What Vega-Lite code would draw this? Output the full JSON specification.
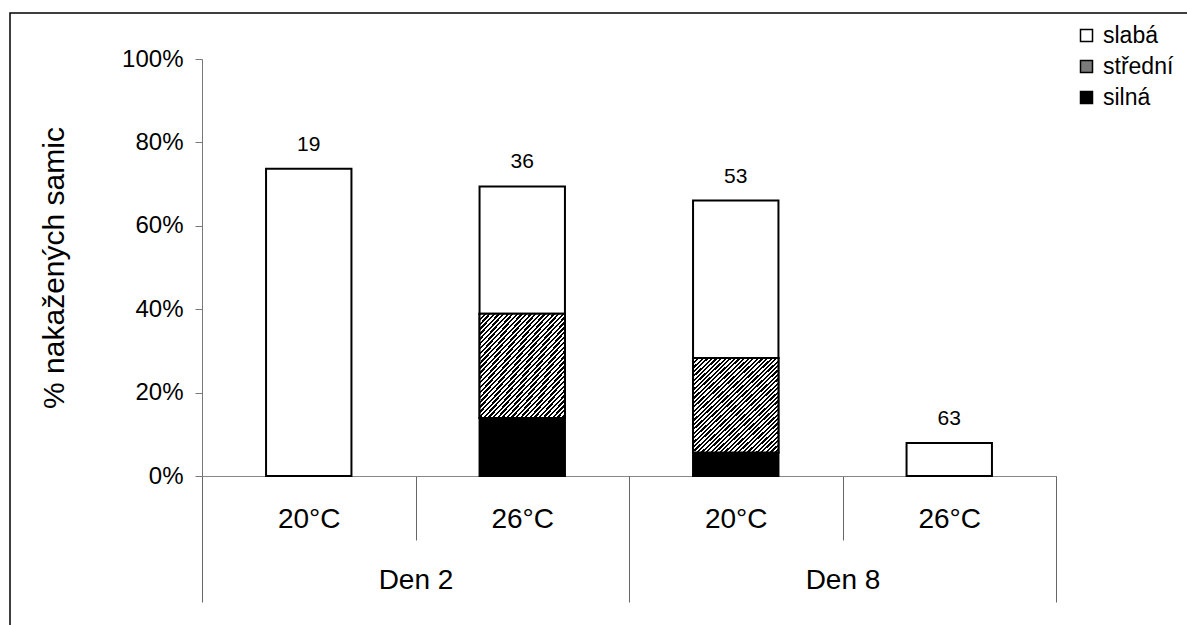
{
  "$schema": "https://vega.github.io/schema/vega-lite/v6.json",
  "autosize": {"type": "none"},
  "padding": {"left": 10, "top": 13, "right": -10, "bottom": -10},
  "width": 1187,
  "height": 622,
  "background": "white",
  "config": {
    "font": "Liberation Sans",
    "view": {"stroke": "black", "strokeWidth": 1.5},
    "axis": {"labelColor": "black", "titleColor": "black", "grid": false}
  },
  "data": {
    "values": [
      {"den": "Den 2", "temp": "20°C", "cond": "Den 2|20°C", "sev": "slabá", "ord": 3, "pct": 0.7368, "n": 19},
      {"den": "Den 2", "temp": "26°C", "cond": "Den 2|26°C", "sev": "silná", "ord": 1, "pct": 0.1389, "n": 36},
      {"den": "Den 2", "temp": "26°C", "cond": "Den 2|26°C", "sev": "střední", "ord": 2, "pct": 0.25, "n": 36},
      {"den": "Den 2", "temp": "26°C", "cond": "Den 2|26°C", "sev": "slabá", "ord": 3, "pct": 0.3056, "n": 36},
      {"den": "Den 8", "temp": "20°C", "cond": "Den 8|20°C", "sev": "silná", "ord": 1, "pct": 0.0566, "n": 53},
      {"den": "Den 8", "temp": "20°C", "cond": "Den 8|20°C", "sev": "střední", "ord": 2, "pct": 0.2264, "n": 53},
      {"den": "Den 8", "temp": "20°C", "cond": "Den 8|20°C", "sev": "slabá", "ord": 3, "pct": 0.3774, "n": 53},
      {"den": "Den 8", "temp": "26°C", "cond": "Den 8|26°C", "sev": "slabá", "ord": 3, "pct": 0.0794, "n": 63}
    ]
  },
  "transform": [
    {"stack": "pct", "groupby": ["cond"], "sort": [{"field": "ord", "order": "ascending"}], "as": ["lo", "hi"]}
  ],
  "layer": [
    {
      "layer": [
        {
          "mark": {"type": "bar", "stroke": "black", "strokeWidth": 2},
          "encoding": {
            "x": {
              "field": "cond", "type": "nominal",
              "scale": {"domain": ["Den 2|20°C", "Den 2|26°C", "Den 8|20°C", "Den 8|26°C"], "range": [192, 1046], "paddingInner": 0.6, "paddingOuter": 0.3},
              "axis": null
            },
            "y": {
              "field": "lo", "type": "quantitative",
              "scale": {"domain": [0, 1], "range": [463, 46], "nice": false},
              "axis": {
                "orient": "left", "offset": -192,
                "title": "% nakažených samic",
                "values": [0, 0.2, 0.4, 0.6, 0.8, 1], "format": ".0%",
                "tickSize": 7, "tickColor": "#777", "domainColor": "#777",
                "labelFontSize": 24, "labelPadding": 12,
                "titleFontSize": 30, "titleFontWeight": "normal", "titlePadding": 52
              }
            },
            "y2": {"field": "hi"},
            "color": {
              "field": "sev", "type": "nominal",
              "scale": {"domain": ["slabá", "střední", "silná"], "range": ["#ffffff", "#7a7a7a", "#000000"]},
              "legend": {
                "orient": "none", "legendX": 1065, "legendY": 11, "title": null,
                "symbolType": "square", "symbolSize": 144, "symbolStrokeColor": "black", "symbolStrokeWidth": 1.5,
                "labelFontSize": 23, "labelOffset": 5, "rowPadding": 7, "padding": 0, "labelColor": "black"
              }
            }
          }
        },
        {
          "transform": [{"filter": "datum.sev === 'střední'"}],
          "mark": {
            "type": "bar", "stroke": "black", "strokeWidth": 2,
            "fill": {
              "gradient": "linear", "x1": 0, "y1": 0, "x2": 0.926, "y2": 1.065,
              "stops": [
                {"offset": 0, "color": "#000"}, {"offset": 0.0125, "color": "#000"}, {"offset": 0.0125, "color": "#fff"}, {"offset": 0.025, "color": "#fff"},
                {"offset": 0.025, "color": "#000"}, {"offset": 0.0375, "color": "#000"}, {"offset": 0.0375, "color": "#fff"}, {"offset": 0.05, "color": "#fff"},
                {"offset": 0.05, "color": "#000"}, {"offset": 0.0625, "color": "#000"}, {"offset": 0.0625, "color": "#fff"}, {"offset": 0.075, "color": "#fff"},
                {"offset": 0.075, "color": "#000"}, {"offset": 0.0875, "color": "#000"}, {"offset": 0.0875, "color": "#fff"}, {"offset": 0.1, "color": "#fff"},
                {"offset": 0.1, "color": "#000"}, {"offset": 0.1125, "color": "#000"}, {"offset": 0.1125, "color": "#fff"}, {"offset": 0.125, "color": "#fff"},
                {"offset": 0.125, "color": "#000"}, {"offset": 0.1375, "color": "#000"}, {"offset": 0.1375, "color": "#fff"}, {"offset": 0.15, "color": "#fff"},
                {"offset": 0.15, "color": "#000"}, {"offset": 0.1625, "color": "#000"}, {"offset": 0.1625, "color": "#fff"}, {"offset": 0.175, "color": "#fff"},
                {"offset": 0.175, "color": "#000"}, {"offset": 0.1875, "color": "#000"}, {"offset": 0.1875, "color": "#fff"}, {"offset": 0.2, "color": "#fff"},
                {"offset": 0.2, "color": "#000"}, {"offset": 0.2125, "color": "#000"}, {"offset": 0.2125, "color": "#fff"}, {"offset": 0.225, "color": "#fff"},
                {"offset": 0.225, "color": "#000"}, {"offset": 0.2375, "color": "#000"}, {"offset": 0.2375, "color": "#fff"}, {"offset": 0.25, "color": "#fff"},
                {"offset": 0.25, "color": "#000"}, {"offset": 0.2625, "color": "#000"}, {"offset": 0.2625, "color": "#fff"}, {"offset": 0.275, "color": "#fff"},
                {"offset": 0.275, "color": "#000"}, {"offset": 0.2875, "color": "#000"}, {"offset": 0.2875, "color": "#fff"}, {"offset": 0.3, "color": "#fff"},
                {"offset": 0.3, "color": "#000"}, {"offset": 0.3125, "color": "#000"}, {"offset": 0.3125, "color": "#fff"}, {"offset": 0.325, "color": "#fff"},
                {"offset": 0.325, "color": "#000"}, {"offset": 0.3375, "color": "#000"}, {"offset": 0.3375, "color": "#fff"}, {"offset": 0.35, "color": "#fff"},
                {"offset": 0.35, "color": "#000"}, {"offset": 0.3625, "color": "#000"}, {"offset": 0.3625, "color": "#fff"}, {"offset": 0.375, "color": "#fff"},
                {"offset": 0.375, "color": "#000"}, {"offset": 0.3875, "color": "#000"}, {"offset": 0.3875, "color": "#fff"}, {"offset": 0.4, "color": "#fff"},
                {"offset": 0.4, "color": "#000"}, {"offset": 0.4125, "color": "#000"}, {"offset": 0.4125, "color": "#fff"}, {"offset": 0.425, "color": "#fff"},
                {"offset": 0.425, "color": "#000"}, {"offset": 0.4375, "color": "#000"}, {"offset": 0.4375, "color": "#fff"}, {"offset": 0.45, "color": "#fff"},
                {"offset": 0.45, "color": "#000"}, {"offset": 0.4625, "color": "#000"}, {"offset": 0.4625, "color": "#fff"}, {"offset": 0.475, "color": "#fff"},
                {"offset": 0.475, "color": "#000"}, {"offset": 0.4875, "color": "#000"}, {"offset": 0.4875, "color": "#fff"}, {"offset": 0.5, "color": "#fff"},
                {"offset": 0.5, "color": "#000"}, {"offset": 0.5125, "color": "#000"}, {"offset": 0.5125, "color": "#fff"}, {"offset": 0.525, "color": "#fff"},
                {"offset": 0.525, "color": "#000"}, {"offset": 0.5375, "color": "#000"}, {"offset": 0.5375, "color": "#fff"}, {"offset": 0.55, "color": "#fff"},
                {"offset": 0.55, "color": "#000"}, {"offset": 0.5625, "color": "#000"}, {"offset": 0.5625, "color": "#fff"}, {"offset": 0.575, "color": "#fff"},
                {"offset": 0.575, "color": "#000"}, {"offset": 0.5875, "color": "#000"}, {"offset": 0.5875, "color": "#fff"}, {"offset": 0.6, "color": "#fff"},
                {"offset": 0.6, "color": "#000"}, {"offset": 0.6125, "color": "#000"}, {"offset": 0.6125, "color": "#fff"}, {"offset": 0.625, "color": "#fff"},
                {"offset": 0.625, "color": "#000"}, {"offset": 0.6375, "color": "#000"}, {"offset": 0.6375, "color": "#fff"}, {"offset": 0.65, "color": "#fff"},
                {"offset": 0.65, "color": "#000"}, {"offset": 0.6625, "color": "#000"}, {"offset": 0.6625, "color": "#fff"}, {"offset": 0.675, "color": "#fff"},
                {"offset": 0.675, "color": "#000"}, {"offset": 0.6875, "color": "#000"}, {"offset": 0.6875, "color": "#fff"}, {"offset": 0.7, "color": "#fff"},
                {"offset": 0.7, "color": "#000"}, {"offset": 0.7125, "color": "#000"}, {"offset": 0.7125, "color": "#fff"}, {"offset": 0.725, "color": "#fff"},
                {"offset": 0.725, "color": "#000"}, {"offset": 0.7375, "color": "#000"}, {"offset": 0.7375, "color": "#fff"}, {"offset": 0.75, "color": "#fff"},
                {"offset": 0.75, "color": "#000"}, {"offset": 0.7625, "color": "#000"}, {"offset": 0.7625, "color": "#fff"}, {"offset": 0.775, "color": "#fff"},
                {"offset": 0.775, "color": "#000"}, {"offset": 0.7875, "color": "#000"}, {"offset": 0.7875, "color": "#fff"}, {"offset": 0.8, "color": "#fff"},
                {"offset": 0.8, "color": "#000"}, {"offset": 0.8125, "color": "#000"}, {"offset": 0.8125, "color": "#fff"}, {"offset": 0.825, "color": "#fff"},
                {"offset": 0.825, "color": "#000"}, {"offset": 0.8375, "color": "#000"}, {"offset": 0.8375, "color": "#fff"}, {"offset": 0.85, "color": "#fff"},
                {"offset": 0.85, "color": "#000"}, {"offset": 0.8625, "color": "#000"}, {"offset": 0.8625, "color": "#fff"}, {"offset": 0.875, "color": "#fff"},
                {"offset": 0.875, "color": "#000"}, {"offset": 0.8875, "color": "#000"}, {"offset": 0.8875, "color": "#fff"}, {"offset": 0.9, "color": "#fff"},
                {"offset": 0.9, "color": "#000"}, {"offset": 0.9125, "color": "#000"}, {"offset": 0.9125, "color": "#fff"}, {"offset": 0.925, "color": "#fff"},
                {"offset": 0.925, "color": "#000"}, {"offset": 0.9375, "color": "#000"}, {"offset": 0.9375, "color": "#fff"}, {"offset": 0.95, "color": "#fff"},
                {"offset": 0.95, "color": "#000"}, {"offset": 0.9625, "color": "#000"}, {"offset": 0.9625, "color": "#fff"}, {"offset": 0.975, "color": "#fff"},
                {"offset": 0.975, "color": "#000"}, {"offset": 0.9875, "color": "#000"}, {"offset": 0.9875, "color": "#fff"}, {"offset": 1, "color": "#fff"}
              ]
            }
          },
          "encoding": {
            "x": {"field": "cond", "type": "nominal"},
            "y": {"field": "lo", "type": "quantitative"},
            "y2": {"field": "hi"}
          }
        },
        {
          "transform": [{"filter": "datum.sev === 'slabá'"}],
          "mark": {"type": "text", "fontSize": 21, "baseline": "alphabetic", "dy": -18, "color": "black"},
          "encoding": {
            "x": {"field": "cond", "type": "nominal"},
            "y": {"field": "hi", "type": "quantitative"},
            "text": {"field": "n", "type": "quantitative"}
          }
        }
      ]
    },
    {
      "mark": {"type": "rule", "strokeOpacity": 0},
      "encoding": {
        "x": {
          "field": "cond", "type": "nominal",
          "scale": {"domain": ["Den 2|20°C", "Den 2|26°C", "Den 8|20°C", "Den 8|26°C"], "range": [192, 1046], "paddingInner": 0, "paddingOuter": 0},
          "axis": {
            "orient": "bottom", "offset": -159, "title": null,
            "tickBand": "extent", "tickSize": 64, "tickColor": "#666", "tickWidth": 1,
            "domainColor": "#888", "domainWidth": 1,
            "labelExpr": "split(datum.label, '|')[1]",
            "labelFontSize": 28, "labelPadding": -35, "labelAngle": 0
          }
        }
      }
    },
    {
      "mark": {"type": "rule", "strokeOpacity": 0},
      "encoding": {
        "x": {
          "field": "den", "type": "nominal",
          "scale": {"domain": ["Den 2", "Den 8"], "range": [192, 1046], "paddingInner": 0, "paddingOuter": 0},
          "axis": {
            "orient": "bottom", "offset": -159, "title": null,
            "tickBand": "extent", "tickSize": 126, "tickColor": "#666", "tickWidth": 1,
            "domain": false,
            "labelFontSize": 28, "labelPadding": -36, "labelAngle": 0
          }
        }
      }
    }
  ],
  "resolve": {"scale": {"x": "independent"}}
}
